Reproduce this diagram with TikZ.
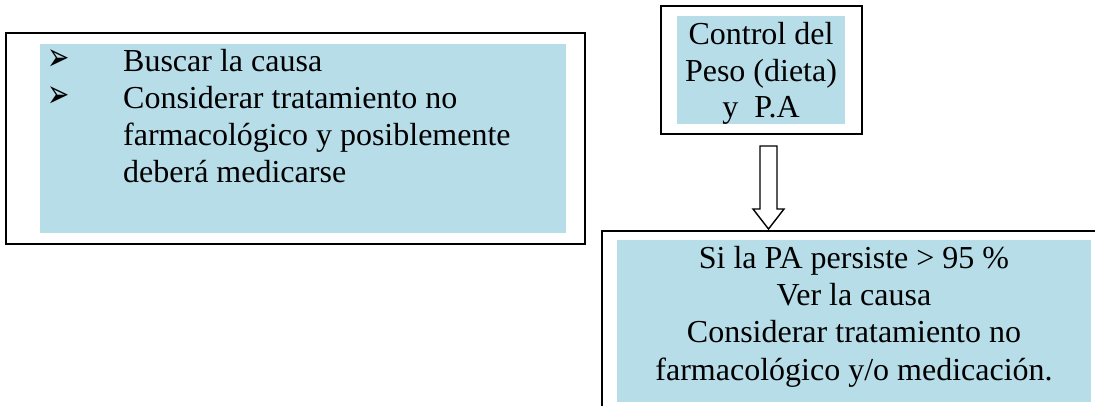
\documentclass[tikz,border=0pt]{standalone}
\usepackage{fontspec}
\setmainfont{Liberation Serif}
\newfontfamily\symfont{DejaVu Sans}
\definecolor{lblue}{RGB}{183,221,232}
\begin{document}
\begin{tikzpicture}[x=1pt,y=-1pt,
  frame/.style={draw=black,line width=2.2pt,anchor=north west,inner sep=0pt},
  panel/.style={fill=lblue,anchor=north west,inner sep=0pt},
  txt/.style={inner sep=0pt,font=\fontsize{32}{37}\selectfont},
  lt/.style={txt,anchor=base west},
  ct/.style={txt,anchor=base},
  bul/.style={inner sep=0pt,font=\symfont\fontsize{28}{28}\selectfont,anchor=base west}]
\useasboundingbox (0,0) rectangle (1095,406);
% left box
\node[frame,minimum width=579pt,minimum height=211pt] (L) at (5,32) {};
\node[panel,minimum width=526pt,minimum height=189pt] (Lp) at (40,44) {};
\node[bul] (b1) at (47,71) {\scalebox{0.95}[1.4]{➢}};
\node[bul] (b2) at (47,108) {\scalebox{0.95}[1.4]{➢}};
\node[lt] (l1) at (123,72) {Buscar la causa};
\node[lt] (l2) at (123,109) {Considerar tratamiento no};
\node[lt] (l3) at (123,146) {farmacológico y posiblemente};
\node[lt] (l4) at (123,183) {deberá medicarse};
% control box
\node[frame,minimum width=201pt,minimum height=128pt] (C) at (660,5) {};
\node[panel,minimum width=168pt,minimum height=108pt] (Cp) at (677,16) {};
\node[ct] (c1) at (761,45) {Control del};
\node[ct] (c2) at (761,82) {Peso (dieta)};
\node[ct] (c3) at (761,118) {y\ \ P.A};
% bottom box
\node[frame,minimum width=520pt,minimum height=200pt] (B) at (601,230) {};
\node[panel,minimum width=474pt,minimum height=162pt] (Bp) at (617,240) {};
\node[ct] (t1) at (854,268) {Si la PA persiste > 95 \%};
\node[ct] (t2) at (854,305) {Ver la causa};
\node[ct] (t3) at (854,342) {Considerar tratamiento no};
\node[ct] (t4) at (854,380) {farmacológico y/o medicación.};
% arrow from control box to bottom box
\draw[line width=1.4pt,line join=miter,fill=white]
  (760,146) -- (777,146) -- (777,209) -- (784,209) -- (768.5,229) -- (753,209) -- (760,209) -- cycle;
\end{tikzpicture}
\end{document}
